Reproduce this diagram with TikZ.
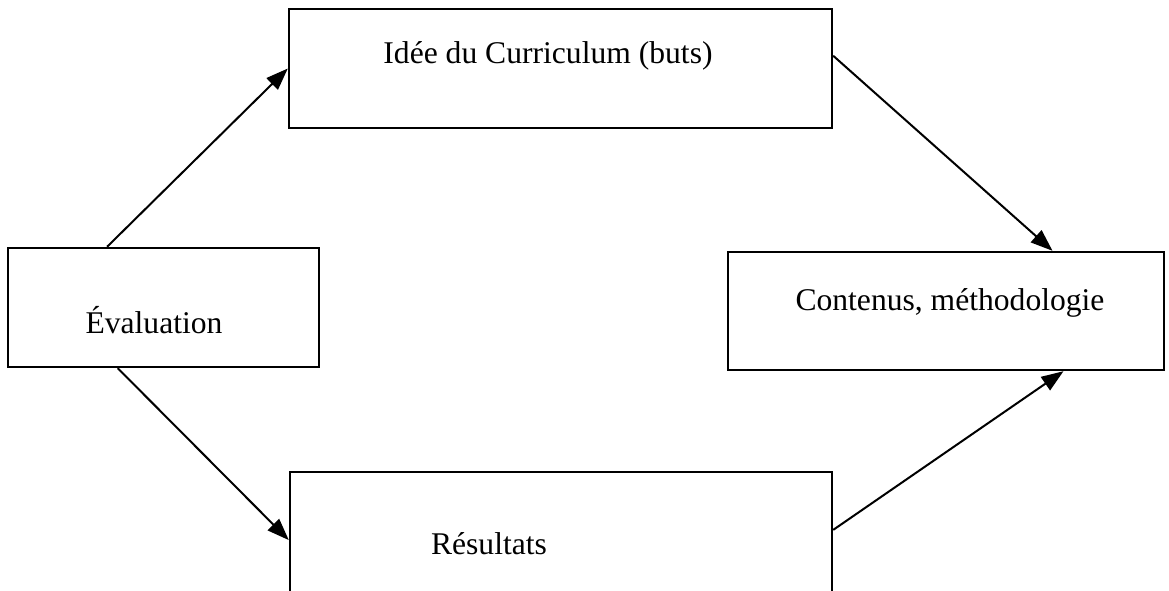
\documentclass[tikz,border=0pt]{standalone}
\usepackage{fontspec}
\setmainfont{Liberation Serif}
\usetikzlibrary{arrows.meta,calc}

\begin{document}
\begin{tikzpicture}[x=0.5pt, y=-0.5pt,
    boite/.style={rectangle, draw, line width=1.2pt, inner sep=0pt},
    etiquette/.style={anchor=base, inner sep=0pt, font=\fontsize{15.8}{19}\selectfont},
    fleche/.style={-{Triangle[length=11pt, width=8pt]}, line width=1pt}]
    \useasboundingbox (0,0) rectangle (1169,590);
    \clip (0,0) rectangle (1169,590);

    % cadres
    \node [boite, minimum width=271.5pt, minimum height=59.5pt] (idee) at (560.5,68.5) {};
    \node [boite, minimum width=155.5pt, minimum height=59.5pt] (eval) at (163.5,307.5) {};
    \node [boite, minimum width=218pt, minimum height=59pt] (contenus) at (946,311) {};
    \node [boite, minimum width=271pt, minimum height=61pt] (resultats) at (561,533) {};

    % textes
    \node [etiquette] (t-idee) at (548,63) {Idée du Curriculum (buts)};
    \node [etiquette] (t-eval) at (154,333) {Évaluation};
    \node [etiquette] (t-contenus) at (950,310) {Contenus, méthodologie};
    \node [etiquette] (t-resultats) at (489,554) {Résultats};

    % fleches
    \draw[fleche] ($(eval.north west)!0.32!(eval.north east)$) -- (idee.west);
    \draw[fleche] ($(idee.north east)!0.395!(idee.south east)$) -- ($(contenus.north west)!0.743!(contenus.north east)$);
    \draw[fleche] ($(eval.south west)!0.354!(eval.south east)$) -- ($(resultats.north west)!0.557!(resultats.south west)$);
    \draw[fleche] ($(resultats.north east)!0.475!(resultats.south east)$) -- ($(contenus.south west)!0.768!(contenus.south east)$);
\end{tikzpicture}
\end{document}
